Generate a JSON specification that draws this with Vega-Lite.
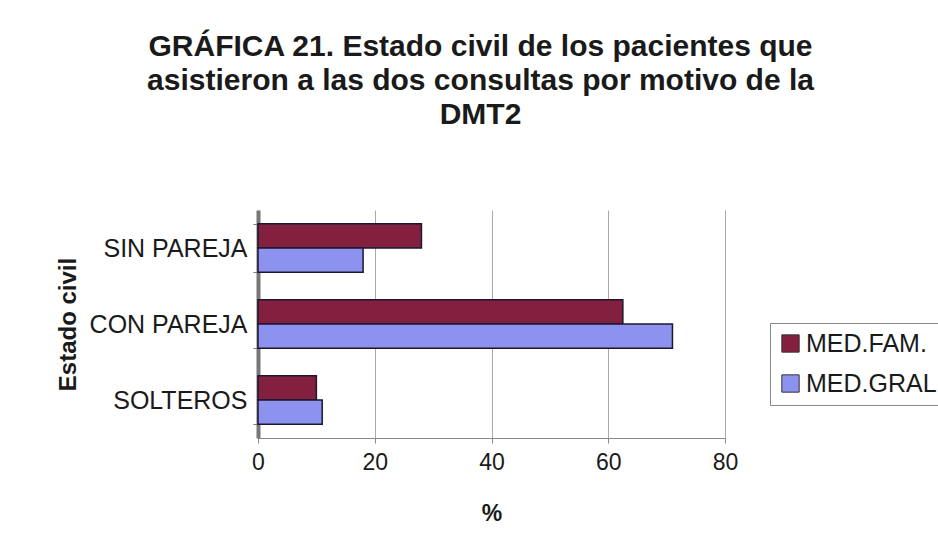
{
  "$schema": "https://vega.github.io/schema/vega-lite/v6.json",
  "autosize": {"type": "none"},
  "width": 467,
  "height": 228,
  "padding": {"left": 258, "top": 210, "right": 213, "bottom": 118},
  "background": "white",
  "title": {
    "text": ["GRÁFICA 21. Estado civil de los pacientes que", "asistieron a las dos consultas por motivo de la", "DMT2"],
    "font": "Liberation Sans",
    "fontSize": 30,
    "fontWeight": "bold",
    "color": "#1a1a1a",
    "lineHeight": 34,
    "anchor": "middle",
    "dx": -11,
    "offset": 68
  },
  "data": {
    "values": [
      {"estado": "SIN PAREJA", "serie": "MED.FAM.", "pct": 28},
      {"estado": "SIN PAREJA", "serie": "MED.GRAL", "pct": 18},
      {"estado": "CON PAREJA", "serie": "MED.FAM.", "pct": 62.5},
      {"estado": "CON PAREJA", "serie": "MED.GRAL", "pct": 71},
      {"estado": "SOLTEROS", "serie": "MED.FAM.", "pct": 10},
      {"estado": "SOLTEROS", "serie": "MED.GRAL", "pct": 11}
    ]
  },
  "mark": {"type": "bar", "stroke": "#1c1630", "strokeWidth": 1.5},
  "encoding": {
    "y": {
      "field": "estado",
      "type": "nominal",
      "sort": ["SIN PAREJA", "CON PAREJA", "SOLTEROS"],
      "scale": {"paddingInner": 0.36, "paddingOuter": 0.18},
      "axis": {
        "title": "Estado civil",
        "titleFont": "Liberation Sans",
        "titleFontSize": 24,
        "titleFontWeight": "bold",
        "titleColor": "#1a1a1a",
        "titlePadding": 9,
        "labelFont": "Liberation Sans",
        "labelFontSize": 25,
        "labelColor": "#1a1a1a",
        "labelPadding": 6,
        "domainColor": "#777777",
        "domainWidth": 4,
        "tickColor": "#777777",
        "tickBand": "extent",
        "tickSize": 5
      }
    },
    "yOffset": {"field": "serie", "type": "nominal", "sort": ["MED.FAM.", "MED.GRAL"]},
    "x": {
      "field": "pct",
      "type": "quantitative",
      "scale": {"domain": [0, 80]},
      "axis": {
        "title": "%",
        "titleFont": "Liberation Sans",
        "titleFontSize": 23,
        "titleFontWeight": "bold",
        "titleColor": "#1a1a1a",
        "titlePadding": 28,
        "values": [0, 20, 40, 60, 80],
        "labelFlush": false,
        "labelFont": "Liberation Sans",
        "labelFontSize": 23,
        "labelColor": "#1a1a1a",
        "labelPadding": 8,
        "domainColor": "#888888",
        "tickColor": "#888888",
        "tickSize": 5,
        "grid": true,
        "gridColor": "#aaaaaa",
        "gridWidth": 1
      }
    },
    "color": {
      "field": "serie",
      "type": "nominal",
      "scale": {"domain": ["MED.FAM.", "MED.GRAL"], "range": ["#832040", "#8c92ee"]},
      "legend": {
        "title": null,
        "orient": "none",
        "legendX": 512,
        "legendY": 113,
        "symbolType": "square",
        "symbolSize": 300,
        "symbolStrokeColor": "#333333",
        "symbolStrokeWidth": 1,
        "labelFont": "Liberation Sans",
        "labelFontSize": 25,
        "labelColor": "#1a1a1a",
        "labelOffset": 3,
        "rowPadding": 14,
        "strokeColor": "#888888",
        "padding": 8
      }
    }
  },
  "config": {"view": {"stroke": null}}
}
